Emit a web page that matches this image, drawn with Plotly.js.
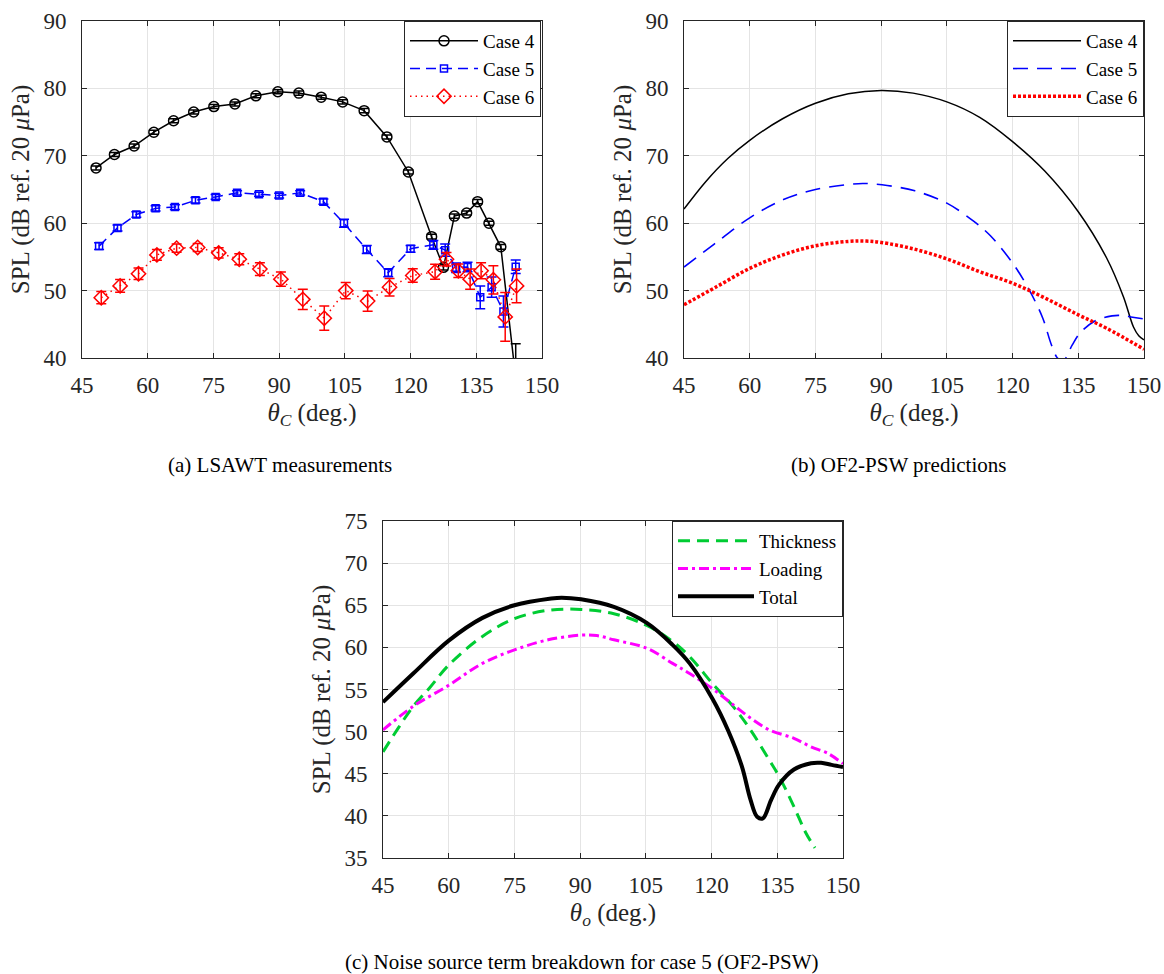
<!DOCTYPE html>
<html>
<head>
<meta charset="utf-8">
<script src="https://cdn.plot.ly/plotly-3.0.1.min.js"></script>
<style>html,body{margin:0;padding:0;background:#fff;}#chart{width:1164px;height:974px;}</style>
</head>
<body>
<div id="chart"></div>
<script>
// ---------- (a) LSAWT measurements ----------
const case4Theta = [48.2, 52.4, 56.9, 61.4, 65.9, 70.5, 75.1, 79.9, 84.7, 89.7, 94.5, 99.6, 104.5, 109.4, 114.6, 119.5, 124.8, 127.5, 130.0, 132.8, 135.3, 137.9, 140.6, 144.0];
const case4SPL   = [68.2, 70.2, 71.45, 73.5, 75.2, 76.5, 77.3, 77.7, 78.9, 79.5, 79.3, 78.7, 78.0, 76.7, 72.8, 67.6, 58.0, 53.45, 61.05, 61.5, 63.2, 60.0, 56.5, 37.0];
const case4Err   = [0.3, 0.3, 0.3, 0.3, 0.3, 0.3, 0.3, 0.3, 0.3, 0.3, 0.3, 0.3, 0.3, 0.3, 0.3, 0.3, 0.35, 0.4, 0.3, 0.3, 0.3, 0.3, 0.35, 5.1];

const case5Theta = [48.9, 53.1, 57.4, 61.8, 66.2, 70.9, 75.5, 80.4, 85.4, 90.0, 94.8, 100.1, 104.8, 110.0, 114.9, 120.0, 125.2, 127.9, 130.4, 133.0, 135.9, 138.5, 141.2, 144.0];
const case5SPL   = [56.6, 59.3, 61.3, 62.2, 62.4, 63.4, 63.9, 64.5, 64.3, 64.1, 64.5, 63.2, 60.0, 56.1, 52.65, 56.2, 56.8, 56.0, 53.4, 53.5, 49.0, 50.5, 46.9, 53.55];
const case5Err   = [0.5, 0.45, 0.4, 0.4, 0.35, 0.4, 0.35, 0.3, 0.3, 0.35, 0.3, 0.4, 0.6, 0.6, 0.6, 0.5, 0.65, 0.9, 0.7, 0.7, 1.7, 1.5, 2.3, 1.0];

const case6Theta = [49.4, 53.7, 57.9, 62.1, 66.6, 71.4, 76.2, 80.9, 85.6, 90.4, 95.4, 100.3, 105.2, 110.2, 115.2, 120.5, 125.6, 128.2, 130.9, 133.6, 136.1, 138.9, 141.6, 144.2];
const case6SPL   = [48.95, 50.7, 52.5, 55.3, 56.3, 56.4, 55.6, 54.65, 53.2, 51.7, 48.7, 45.9, 50.0, 48.45, 50.5, 52.25, 52.8, 54.65, 52.95, 51.7, 52.95, 51.6, 46.1, 50.7];
const case6Err   = [0.9, 0.95, 0.87, 0.8, 0.62, 0.6, 0.75, 0.8, 0.95, 1.05, 1.5, 1.8, 1.2, 1.5, 1.3, 1.0, 1.1, 1.0, 1.0, 1.5, 1.2, 2.1, 3.6, 2.5];

// ---------- (b) OF2-PSW predictions ----------
const pred4Theta = [45, 50, 55, 60, 67.5, 75, 82.5, 90, 97.3, 105, 112.5, 120, 127.4, 135, 141.5, 145.3, 147.6, 148.8, 150];
const pred4SPL   = [62.1, 66.2, 69.6, 72.3, 75.5, 77.8, 79.2, 79.7, 79.3, 78.0, 75.7, 72.1, 67.7, 61.7, 54.8, 49.1, 44.6, 43.3, 42.7];

// case 5 prediction (identical to "Total" in panel c)
const pred5Theta = [45, 51.9, 60, 67.7, 75, 83.4, 85.8, 90.2, 97.7, 105.2, 111.1, 115, 120.2, 123.8, 126.9, 128.9, 130.4, 131.7, 133.6, 135.4, 138.8, 142.7, 145, 147.4, 150];
const pred5SPL   = [53.5, 56.9, 60.8, 63.5, 65.0, 65.8, 65.9, 65.7, 64.8, 62.9, 60.3, 58.1, 53.9, 50.1, 45.9, 41.9, 39.9, 39.7, 41.9, 43.7, 45.5, 46.25, 46.3, 46.05, 45.8];

const pred6Theta = [45, 52.5, 60, 67.6, 75, 82.5, 86.6, 90, 97.3, 105, 112.5, 120, 127.4, 135, 141.5, 150];
const pred6SPL   = [47.9, 50.6, 53.3, 55.3, 56.65, 57.3, 57.35, 57.15, 56.2, 54.7, 52.8, 51.1, 48.9, 46.4, 44.4, 41.3];

// ---------- (c) Noise source term breakdown, case 5 ----------
const thickTheta = [45, 48.7, 51.9, 55.8, 60, 67.7, 75, 82.7, 90.2, 97.7, 105.2, 111.1, 115, 120.2, 124.9, 128.9, 133.2, 135.4, 138.8, 141.5, 143.6];
const thickSPL   = [47.6, 50.6, 53.0, 55.3, 57.9, 61.3, 63.4, 64.4, 64.5, 64.0, 62.6, 60.7, 58.9, 55.7, 53.0, 50.2, 46.6, 44.7, 41.1, 38.0, 36.2];
const loadTheta  = [45, 51.9, 60, 67.7, 75, 82.7, 90.2, 93.8, 97.7, 105.2, 111.1, 115, 120.2, 124.9, 128.9, 133.2, 138.8, 142.7, 146.6, 150];
const loadSPL    = [50.2, 53.0, 55.5, 58.1, 59.7, 60.9, 61.45, 61.4, 60.9, 59.9, 58.1, 56.9, 55.1, 53.2, 51.6, 50.2, 49.2, 48.2, 47.4, 46.2];

const xTicks = [45, 60, 75, 90, 105, 120, 135, 150];
const yTicksAB = [40, 50, 60, 70, 80, 90];
const yTicksC = [35, 40, 45, 50, 55, 60, 65, 70, 75];

const captionA = '(a) LSAWT measurements';
const captionB = '(b) OF2-PSW predictions';
const captionC = '(c) Noise source term breakdown for case 5 (OF2-PSW)';
const yTitle = 'SPL (dB ref. 20 <i>μ</i>Pa)';
const xTitleC = '<i>θ</i><sub><i>C</i></sub> (deg.)';
const xTitleO = '<i>θ</i><sub><i>o</i></sub> (deg.)';

// ---------- layout helpers ----------
const W = 1164, H = 974;
const FONT = 'Liberation Serif';
const AX = '#262626';
function px(a, b) { return [a / W, b / W]; }
function py(top, bottom) { return [1 - bottom / H, 1 - top / H]; }

function xaxis(dom, anchor, title) {
  return {
    domain: dom, anchor: anchor, range: [45, 150], tickvals: xTicks, ticktext: xTicks.map(String),
    ticks: 'inside', ticklen: 5, tickcolor: AX, tickwidth: 1,
    showline: true, linecolor: AX, linewidth: 1, mirror: 'ticks',
    showgrid: true, gridcolor: '#e4e4e4', gridwidth: 1, zeroline: false,
    tickfont: { family: FONT, size: 23, color: AX }, ticklabelstandoff: 6,
    title: { text: title, font: { family: FONT, size: 25, color: AX }, standoff: 6 },
    automargin: false, fixedrange: true
  };
}
function yaxis(dom, anchor, range, ticks) {
  return {
    domain: dom, anchor: anchor, range: range, tickvals: ticks, ticktext: ticks.map(String),
    ticks: 'inside', ticklen: 5, tickcolor: AX, tickwidth: 1,
    showline: true, linecolor: AX, linewidth: 1, mirror: 'ticks',
    showgrid: true, gridcolor: '#e4e4e4', gridwidth: 1, zeroline: false,
    tickfont: { family: FONT, size: 23, color: AX }, ticklabelstandoff: 10,
    title: { text: yTitle, font: { family: FONT, size: 25, color: AX }, standoff: 6 },
    automargin: false, fixedrange: true
  };
}

const traces = [
  // (a)
  { x: case4Theta, y: case4SPL, xaxis: 'x', yaxis: 'y', name: 'Case 4', legend: 'legend', type: 'scatter', mode: 'lines+markers',
    line: { color: '#000', width: 1.5 }, marker: { symbol: 'circle-open', size: 10, color: '#000', line: { width: 1.5 } },
    error_y: { type: 'data', array: case4Err, visible: true, color: '#000', thickness: 1.5, width: 5 } },
  { x: case5Theta, y: case5SPL, xaxis: 'x', yaxis: 'y', name: 'Case 5', legend: 'legend', type: 'scatter', mode: 'lines+markers',
    line: { color: '#0000ff', width: 1.5, dash: '10px,6px' }, marker: { symbol: 'square-open', size: 7, color: '#0000ff', line: { width: 1.5 } },
    error_y: { type: 'data', array: case5Err, visible: true, color: '#0000ff', thickness: 1.5, width: 5 } },
  { x: case6Theta, y: case6SPL, xaxis: 'x', yaxis: 'y', name: 'Case 6', legend: 'legend', type: 'scatter', mode: 'lines+markers',
    line: { color: '#ff0000', width: 1.5, dash: '1.5px,4px' }, marker: { symbol: 'diamond-open', size: 11, color: '#ff0000', line: { width: 1.5 } },
    error_y: { type: 'data', array: case6Err, visible: true, color: '#ff0000', thickness: 1.5, width: 5 } },
  // (b)
  { x: pred4Theta, y: pred4SPL, xaxis: 'x2', yaxis: 'y2', name: 'Case 4', legend: 'legend2', type: 'scatter', mode: 'lines',
    line: { color: '#000', width: 1.5, shape: 'spline', smoothing: 1 } },
  { x: pred5Theta, y: pred5SPL, xaxis: 'x2', yaxis: 'y2', name: 'Case 5', legend: 'legend2', type: 'scatter', mode: 'lines',
    line: { color: '#0000ff', width: 1.6, dash: '15px,9px', shape: 'spline', smoothing: 1 } },
  { x: pred6Theta, y: pred6SPL, xaxis: 'x2', yaxis: 'y2', name: 'Case 6', legend: 'legend2', type: 'scatter', mode: 'lines',
    line: { color: '#ff0000', width: 3.5, dash: '3px,2px', shape: 'spline', smoothing: 1 } },
  // (c)
  { x: thickTheta, y: thickSPL, xaxis: 'x3', yaxis: 'y3', name: 'Thickness', legend: 'legend3', type: 'scatter', mode: 'lines',
    line: { color: '#00cc33', width: 3, dash: '12px,7px', shape: 'spline', smoothing: 1 } },
  { x: loadTheta, y: loadSPL, xaxis: 'x3', yaxis: 'y3', name: 'Loading', legend: 'legend3', type: 'scatter', mode: 'lines',
    line: { color: '#ff00ff', width: 3, dash: '10px,4px,3px,4px', shape: 'spline', smoothing: 1 } },
  { x: pred5Theta, y: pred5SPL, xaxis: 'x3', yaxis: 'y3', name: 'Total', legend: 'legend3', type: 'scatter', mode: 'lines',
    line: { color: '#000', width: 4, shape: 'spline', smoothing: 1 } }
];

function legendBox(xRight, yTop, iw) {
  return {
    x: xRight / W, xanchor: 'right', y: 1 - yTop / H, yanchor: 'top', xref: 'paper', yref: 'paper',
    bgcolor: '#fff', bordercolor: AX, borderwidth: 1,
    font: { family: FONT, size: 19, color: '#000' }, itemwidth: iw, tracegroupgap: 0,
    itemclick: false, itemdoubleclick: false
  };
}

const layout = {
  width: W, height: H, margin: { l: 0, r: 0, t: 0, b: 0 },
  paper_bgcolor: '#fff', plot_bgcolor: '#fff', showlegend: true,
  font: { family: FONT, color: AX },
  xaxis: xaxis(px(82, 542), 'y', xTitleC),
  yaxis: yaxis(py(21, 358), 'x', [40, 90], yTicksAB),
  xaxis2: xaxis(px(684, 1144), 'y2', xTitleC),
  yaxis2: yaxis(py(21, 358), 'x2', [40, 90], yTicksAB),
  xaxis3: xaxis(px(383, 843), 'y3', xTitleO),
  yaxis3: yaxis(py(521, 858), 'x3', [35, 75], yTicksC),
  legend: legendBox(541, 21, 68),
  legend2: legendBox(1144, 21, 68),
  legend3: legendBox(843, 521, 76),
  annotations: [
    { text: captionA, x: 280 / W, y: 1 - 465 / H, xref: 'paper', yref: 'paper', showarrow: false, xanchor: 'center', yanchor: 'middle', font: { family: FONT, size: 21, color: '#000' } },
    { text: captionB, x: 898 / W, y: 1 - 465 / H, xref: 'paper', yref: 'paper', showarrow: false, xanchor: 'center', yanchor: 'middle', font: { family: FONT, size: 21, color: '#000' } },
    { text: captionC, x: 582 / W, y: 1 - 962 / H, xref: 'paper', yref: 'paper', showarrow: false, xanchor: 'center', yanchor: 'middle', font: { family: FONT, size: 21, color: '#000' } }
  ]
};

Plotly.newPlot('chart', traces, layout, { staticPlot: true, displayModeBar: false });
</script>
</body>
</html>
